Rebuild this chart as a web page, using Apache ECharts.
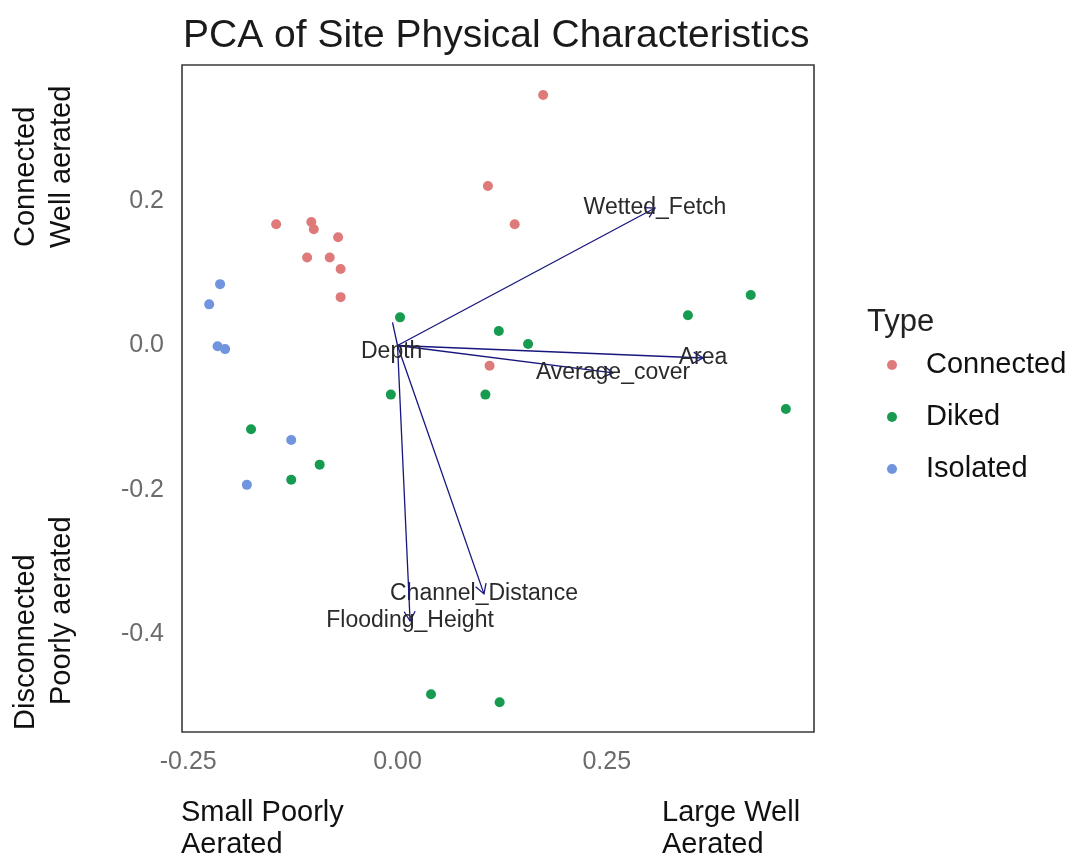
<!DOCTYPE html>
<html><head><meta charset="utf-8">
<script src="https://cdn.jsdelivr.net/npm/echarts@6/dist/echarts.min.js"></script>
<style>html,body{margin:0;padding:0;background:#fff}#c{width:1070px;height:859px}</style>
</head><body><div id="c"></div>
<script>
// ---- data ----
const typeNames = ['Connected', 'Diked', 'Isolated'];
const connectedX = [-0.145, -0.103, -0.100, -0.071, -0.108, -0.081, -0.068, -0.068, 0.108, 0.174, 0.140, 0.110];
const connectedY = [0.168, 0.171, 0.161, 0.150, 0.122, 0.122, 0.106, 0.067, 0.221, 0.347, 0.168, -0.028];
const dikedX = [0.003, 0.121, 0.156, -0.008, 0.105, 0.347, 0.422, 0.464, -0.175, -0.093, -0.127, 0.040, 0.122];
const dikedY = [0.039, 0.020, 0.002, -0.068, -0.068, 0.042, 0.070, -0.088, -0.116, -0.165, -0.186, -0.483, -0.494];
const isolatedX = [-0.212, -0.225, -0.215, -0.206, -0.127, -0.180];
const isolatedY = [0.085, 0.057, -0.001, -0.005, -0.131, -0.193];

const loadingNames = ['Wetted_Fetch', 'Area', 'Average_cover', 'Channel_Distance', 'Flooding_Height', 'Depth'];
const loadingX = [0.3076, 0.365, 0.2575, 0.1033, 0.015, -0.006];
const loadingY = [0.1904, -0.0173, -0.038, -0.344, -0.3816, 0.032];
const loadingLabelX = [0.3076, 0.365, 0.2575, 0.1033, 0.015, -0.007];
const loadingLabelY = [0.1904, -0.0173, -0.038, -0.344, -0.3816, -0.009];

const xTicks = [-0.25, 0, 0.25];
const yTicks = [-0.4, -0.2, 0, 0.2];

const titleText = 'PCA of Site Physical Characteristics';
const legendTitle = 'Type';
const yTitleTop = ['Connected', 'Well aerated'];
const yTitleBottom = ['Disconnected', 'Poorly aerated'];
const xTitleLeft = ['Small Poorly', 'Aerated'];
const xTitleRight = ['Large Well', 'Aerated'];

// ---- styles ----
const FONT = 'Liberation Sans, Arial, sans-serif';
const colors = ['#DE7B7A', '#179B50', '#7094DE'];
const arrowColor = '#16167e';

const zip = (xs, ys) => xs.map((x, i) => [x, ys[i]]);
const seriesData = [zip(connectedX, connectedY), zip(dikedX, dikedY), zip(isolatedX, isolatedY)];
const loadingData = loadingX.map((x, i) => [x, loadingY[i], loadingLabelX[i], loadingLabelY[i]]);

const chart = echarts.init(document.getElementById('c'), null, {renderer: 'canvas'});

function txt(text, x, y, size, rot, color) {
  return {
    type: 'text', x: x, y: y, rotation: rot || 0,
    style: {text: text, x: 0, y: 0, fontSize: size, fontFamily: FONT, fill: color || '#111',
            align: 'left', verticalAlign: 'middle'}
  };
}

const option = {
  backgroundColor: '#fff',
  animation: false,
  title: {
    text: titleText, left: 183, top: 17, padding: 0,
    textStyle: {fontSize: 39, fontWeight: 'normal', color: '#1a1a1a', fontFamily: FONT}
  },
  grid: {left: 182, right: 256, top: 65, bottom: 127, show: true, borderColor: '#3a3a3a', borderWidth: 1.6,
         backgroundColor: '#fff', containLabel: false, outerBoundsMode: 'none'},
  xAxis: {
    type: 'value', min: -0.2575, max: 0.4976,
    splitLine: {show: false}, axisLine: {show: false}, axisTick: {show: false},
    axisLabel: {customValues: xTicks, formatter: v => Number(v).toFixed(2), fontSize: 25,
                color: '#6b6b6b', margin: 18, fontFamily: FONT}
  },
  yAxis: {
    type: 'value', min: -0.5353, max: 0.3885,
    splitLine: {show: false}, axisLine: {show: false}, axisTick: {show: false},
    axisLabel: {customValues: yTicks, formatter: v => Number(v).toFixed(1), fontSize: 25,
                color: '#6b6b6b', margin: 18, fontFamily: FONT}
  },
  legend: {
    data: typeNames, orient: 'vertical', left: 887, top: 350, padding: 0,
    itemWidth: 10, itemHeight: 10, itemGap: 22, icon: 'circle',
    textStyle: {fontSize: 29, lineHeight: 30, color: '#111', fontFamily: FONT, padding: [0, 0, 0, 24]}
  },
  graphic: [
    txt(legendTitle, 867, 322, 31, 0, '#222'),
    txt(yTitleTop[0], 26, 247, 29, Math.PI / 2),
    txt(yTitleTop[1], 62, 248, 29, Math.PI / 2),
    txt(yTitleBottom[0], 26, 730, 29, Math.PI / 2),
    txt(yTitleBottom[1], 62, 705, 29, Math.PI / 2),
    txt(xTitleLeft[0], 181, 813, 29),
    txt(xTitleLeft[1], 181, 845, 29),
    txt(xTitleRight[0], 662, 813, 29),
    txt(xTitleRight[1], 662, 845, 29)
  ],
  series: [
    ...typeNames.map((n, i) => ({
      name: n, type: 'scatter', data: seriesData[i], symbolSize: 10, z: 2,
      itemStyle: {color: colors[i], opacity: 1}
    })),
    {
      name: 'loadings', type: 'custom', z: 3, data: loadingData,
      encode: {x: 0, y: 1},
      renderItem: function (params, api) {
        const o = api.coord([0, 0]);
        const t = api.coord([api.value(0), api.value(1)]);
        const l = api.coord([api.value(2), api.value(3)]);
        const dx = t[0] - o[0], dy = t[1] - o[1];
        const ang = Math.atan2(dy, dx);
        const L = 11, a = Math.PI / 6;
        const h1 = [t[0] - L * Math.cos(ang - a), t[1] - L * Math.sin(ang - a)];
        const h2 = [t[0] - L * Math.cos(ang + a), t[1] - L * Math.sin(ang + a)];
        const children = [
          {type: 'line', shape: {x1: o[0], y1: o[1], x2: t[0], y2: t[1]},
           style: {stroke: arrowColor, lineWidth: 1.3}}
        ];
        if (Math.hypot(dx, dy) > 40) {
          children.push({type: 'polyline', shape: {points: [h1, t, h2]},
           style: {stroke: arrowColor, fill: null, lineWidth: 1.3}});
        }
        children.push({type: 'text', style: {x: l[0], y: l[1], text: loadingNames[params.dataIndex],
           fontSize: 23, fontFamily: FONT, fill: '#2a2a2a', align: 'center', verticalAlign: 'middle'}});
        return {type: 'group', children: children};
      }
    }
  ]
};
chart.setOption(option);
</script>
</body></html>
